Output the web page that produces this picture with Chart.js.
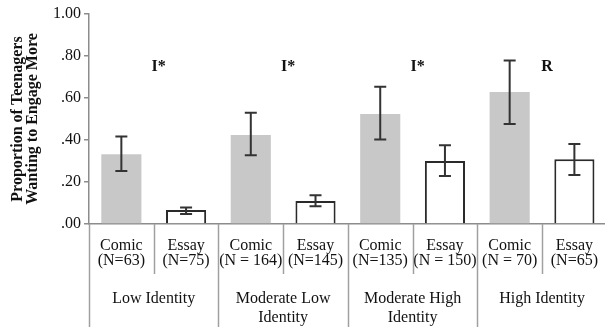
<!DOCTYPE html>
<html>
<head>
<meta charset="utf-8">
<script src="https://cdn.jsdelivr.net/npm/chart.js@4/dist/chart.umd.min.js"></script>
<style>
  html, body { margin: 0; padding: 0; background: #fff; overflow: hidden; }
  #wrap { width: 605px; height: 327px; overflow: hidden; }
  #wrap div { width: 612px; height: 327px; }
</style>
</head>
<body>
<div id="wrap"><div><canvas id="chartCanvas"></canvas></div></div>
<script>
const categories = [
  ['Comic', '(N=63)'], ['Essay', '(N=75)'],
  ['Comic', '(N = 164)'], ['Essay', '(N=145)'],
  ['Comic', '(N=135)'], ['Essay', '(N = 150)'],
  ['Comic', '(N = 70)'], ['Essay', '(N=65)']
];
const groups = ['Low Identity', ['Moderate Low', 'Identity'], ['Moderate High', 'Identity'], 'High Identity'];
const proportions = [0.332, 0.067, 0.424, 0.110, 0.524, 0.300, 0.629, 0.308];
const errLow = [0.252, 0.048, 0.327, 0.084, 0.402, 0.229, 0.476, 0.233];
const errHigh = [0.417, 0.079, 0.530, 0.137, 0.654, 0.375, 0.779, 0.381];
const marks = ['I*', 'I*', 'I*', 'R'];
const markLevel = 0.75;
const yTicks = [0, 0.2, 0.4, 0.6, 0.8, 1.0];

const serif = '"Liberation Serif", "Times New Roman", serif';
const isComic = categories.map(c => c[0] === 'Comic');

// error bars, table lines and significance marks
const extras = {
  id: 'extras',
  afterDatasetsDraw(chart) {
    const ctx = chart.ctx;
    const x = chart.scales.x;
    const y = chart.scales.y;
    ctx.save();
    ctx.strokeStyle = '#333';
    ctx.lineWidth = 2;
    proportions.forEach((v, i) => {
      const cx = x.getPixelForValue(i);
      const top = y.getPixelForValue(errHigh[i]);
      const bot = y.getPixelForValue(errLow[i]);
      ctx.beginPath();
      ctx.moveTo(cx, top); ctx.lineTo(cx, bot);
      ctx.moveTo(cx - 6, top); ctx.lineTo(cx + 6, top);
      ctx.moveTo(cx - 6, bot); ctx.lineTo(cx + 6, bot);
      ctx.stroke();
    });

    // table lines under the axis
    ctx.strokeStyle = '#a0a0a0';
    ctx.lineWidth = 1.5;
    for (let i = 0; i <= categories.length; i++) {
      const lx = Math.round(x.getPixelForValue(i - 0.5)) + 0.5;
      const end = i % 2 === 0 ? chart.height : x.bottom;
      ctx.beginPath();
      ctx.moveTo(lx, x.top);
      ctx.lineTo(lx, end);
      ctx.stroke();
    }

    ctx.fillStyle = '#111';
    ctx.font = 'bold 16px ' + serif;
    ctx.textAlign = 'center';
    ctx.textBaseline = 'middle';
    marks.forEach((m, g) => {
      const gx = x.getPixelForValue(g * 2 + 0.5) + 5;
      ctx.fillText(m, gx, y.getPixelForValue(markLevel));
    });
    ctx.restore();
  }
};

const ctx = document.getElementById('chartCanvas').getContext('2d');
const myChart = new Chart(ctx, {
  type: 'bar',
  data: {
    labels: categories,
    datasets: [{
      data: proportions,
      backgroundColor: isComic.map(c => c ? '#c8c8c8' : '#ffffff'),
      borderColor: isComic.map(c => c ? '#c8c8c8' : '#2a2a2a'),
      borderWidth: isComic.map(c => c ? 0 : 2),
      borderSkipped: 'bottom',
      categoryPercentage: 1,
      barPercentage: 0.62
    }]
  },
  options: {
    responsive: true,
    maintainAspectRatio: false,
    animation: false,
    layout: { padding: { top: 14, right: 0, bottom: 0, left: 0 } },
    plugins: {
      legend: { display: false },
      tooltip: { enabled: false }
    },
    scales: {
      x: {
        weight: 1,
        offset: true,
        grid: { display: false, drawTicks: false },
        border: { display: true, color: '#8c8c8c', width: 1.5 },
        ticks: {
          color: '#111',
          font: { family: serif, size: 16, lineHeight: 0.95 },
          padding: 14,
          maxRotation: 0,
          autoSkip: false
        },
        afterFit(scale) { scale.height = 50; }
      },
      x2: {
        type: 'category',
        position: 'bottom',
        weight: 2,
        labels: groups,
        offset: true,
        grid: { display: false, drawTicks: false },
        border: { display: false },
        ticks: {
          color: '#111',
          font: { family: serif, size: 16, lineHeight: 1.2 },
          padding: 15,
          maxRotation: 0,
          autoSkip: false
        },
        afterFit(scale) { scale.height = 53; }
      },
      y: {
        min: 0,
        max: 1,
        afterBuildTicks(scale) { scale.ticks = yTicks.map(v => ({ value: v })); },
        grid: { drawOnChartArea: false, drawTicks: true, tickLength: 5, color: '#8c8c8c', lineWidth: 1.5 },
        border: { display: true, color: '#8c8c8c', width: 1.5 },
        ticks: {
          color: '#111',
          font: { family: serif, size: 16 },
          padding: 3,
          callback: v => v.toFixed(2).replace(/^0/, '')
        },
        title: {
          display: true,
          text: ['Proportion of Teenagers', 'Wanting to Engage More'],
          color: '#111',
          font: { family: serif, size: 16, weight: 'bold', lineHeight: 0.95 },
          padding: { top: 10, bottom: 0 }
        },
        afterFit(scale) { scale.width = 89; }
      }
    }
  },
  plugins: [extras]
});
</script>
</body>
</html>
